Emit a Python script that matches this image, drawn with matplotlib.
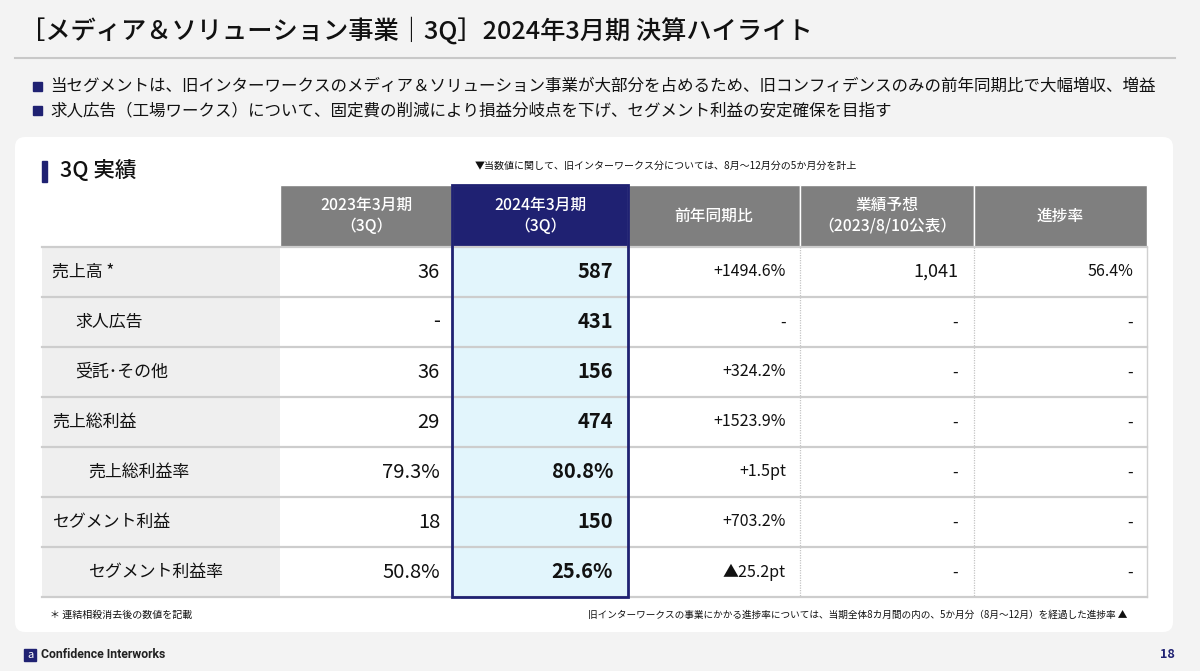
import matplotlib.pyplot as plt
from matplotlib.patches import Rectangle, FancyBboxPatch

plt.rcParams['font.family'] = ['Noto Sans CJK JP', 'DejaVu Sans']

# ---- content ----
title = "［メディア＆ソリューション事業｜3Q］2024年3月期 決算ハイライト"
bullets = [
    "当セグメントは、旧インターワークスのメディア＆ソリューション事業が大部分を占めるため、旧コンフィデンスのみの前年同期比で大幅増収、増益",
    "求人広告（工場ワークス）について、固定費の削減により損益分岐点を下げ、セグメント利益の安定確保を目指す",
]
section = "3Q 実績"
note_top = "▼当数値に関して、旧インターワークス分については、8月～12月分の5か月分を計上"
note_left = "＊ 連結相殺消去後の数値を記載"
note_right = "旧インターワークスの事業にかかる進捗率については、当期全体8カ月間の内の、5か月分（8月～12月）を経過した進捗率 ▲"

headers = ["2023年3月期\n（3Q）", "2024年3月期\n（3Q）", "前年同期比", "業績予想\n（2023/8/10公表）", "進捗率"]
row_labels = ["売上高 *", "求人広告", "受託･その他", "売上総利益", "売上総利益率", "セグメント利益", "セグメント利益率"]
row_indent = [0, 1, 1, 0, 2, 0, 2]
fy2023 = ["36", "-", "36", "29", "79.3%", "18", "50.8%"]
fy2024 = ["587", "431", "156", "474", "80.8%", "150", "25.6%"]
yoy = ["+1494.6%", "-", "+324.2%", "+1523.9%", "+1.5pt", "+703.2%", "▲25.2pt"]
forecast = ["1,041", "-", "-", "-", "-", "-", "-"]
progress = ["56.4%", "-", "-", "-", "-", "-", "-"]

NAVY = "#1f2172"
GRAY_HEAD = "#7f7f7f"
LINE = "#cdcdcd"

fig = plt.figure(figsize=(12, 6.71), dpi=100)
fig.patch.set_facecolor("#f3f3f3")
ax = fig.add_axes([0, 0, 1, 1])
ax.set_xlim(0, 1200)
ax.set_ylim(671, 0)
ax.axis("off")

# title + rule
ax.text(20, 31, title, fontsize=18.2, va="center", ha="left", color="#111111", weight="medium")
ax.plot([15, 1175], [58, 58], color="#c8c8c8", lw=1.5)

# bullets
for i, b in enumerate(bullets):
    y = 86 + i * 24.5
    ax.add_patch(Rectangle((33, y - 4.5), 9, 9, color=NAVY))
    ax.text(50, y, b, fontsize=11.9, va="center", ha="left", color="#111111")

# white panel
ax.add_patch(FancyBboxPatch((15, 137), 1158, 495, boxstyle="round,pad=0,rounding_size=10",
                            fc="white", ec="none"))

# section heading
ax.add_patch(Rectangle((42, 161), 5, 21, color=NAVY))
ax.text(60, 171, section, fontsize=15.5, va="center", ha="left", color="#111111", weight="medium")
ax.text(666, 166, note_top, fontsize=7.2, va="center", ha="center", color="#111111")

# table geometry
col_x = [42, 280, 452, 628, 800, 974, 1147]
head_top, head_bot = 185, 247
row_h = 50
n = len(row_labels)
tbl_bot = head_bot + n * row_h

# header cells
for j, h in enumerate(headers):
    x0, x1 = col_x[j + 1], col_x[j + 2]
    fc = NAVY if j == 1 else GRAY_HEAD
    ax.add_patch(Rectangle((x0, head_top), x1 - x0, head_bot - head_top, fc=fc, ec="white", lw=1))
    ax.text((x0 + x1) / 2, (head_top + head_bot) / 2, h, fontsize=11.3, color="white",
            ha="center", va="center", linespacing=1.3, weight="medium")

# body
ax.add_patch(Rectangle((col_x[0], head_bot), col_x[1] - col_x[0], n * row_h, fc="#efefef", ec="none"))
ax.add_patch(Rectangle((col_x[2], head_bot), col_x[3] - col_x[2], n * row_h, fc="#e2f5fc", ec="none"))

for k in (4, 5):
    ax.plot([col_x[k], col_x[k]], [head_bot, tbl_bot], color="#c4c4c4", lw=0.9, ls=(0, (1, 1)))
ax.plot([col_x[6], col_x[6]], [head_bot, tbl_bot], color="#d0d0d0", lw=1)

for i in range(n + 1):
    y = head_bot + i * row_h
    ax.plot([col_x[0], col_x[6]], [y, y], color=LINE, lw=1.6)

indent_px = [52, 75, 88]
for i in range(n):
    yc = head_bot + i * row_h + row_h / 2
    ax.text(indent_px[row_indent[i]], yc, row_labels[i], fontsize=12.2, va="center", ha="left", color="#111111")
    ax.text(440, yc, fy2023[i], fontsize=14.5, va="center", ha="right", color="#111111")
    ax.text(613, yc, fy2024[i], fontsize=14.5, va="center", ha="right", color="#111111", weight="bold")
    ax.text(786, yc, yoy[i], fontsize=11.5, va="center", ha="right", color="#111111")
    ax.text(958, yc, forecast[i], fontsize=13 if forecast[i] != "-" else 11.5, va="center", ha="right", color="#111111")
    ax.text(1133, yc, progress[i], fontsize=11.5, va="center", ha="right", color="#111111")

# navy frame around current year column
ax.add_patch(Rectangle((col_x[2], head_top), col_x[3] - col_x[2], tbl_bot - head_top,
                       fc="none", ec=NAVY, lw=2, zorder=5))

# footnotes
ax.text(50, 615, note_left, fontsize=7.2, va="center", ha="left", color="#111111")
ax.text(1127, 615, note_right, fontsize=6.95, va="center", ha="right", color="#111111")

# footer
ax.add_patch(Rectangle((24, 649), 12, 12, color=NAVY))
ax.text(30, 655.5, "a", fontsize=8, color="white", ha="center", va="center", style="italic")
ax.text(41, 655, "Confidence Interworks", fontsize=8.8, weight="bold", va="center", ha="left",
        color="#222222", family=["Roboto", "DejaVu Sans"])
ax.text(1175, 655, "18", fontsize=9, weight="bold", va="center", ha="right", color=NAVY)

fig.savefig("out.png", dpi=100, facecolor=fig.get_facecolor())
